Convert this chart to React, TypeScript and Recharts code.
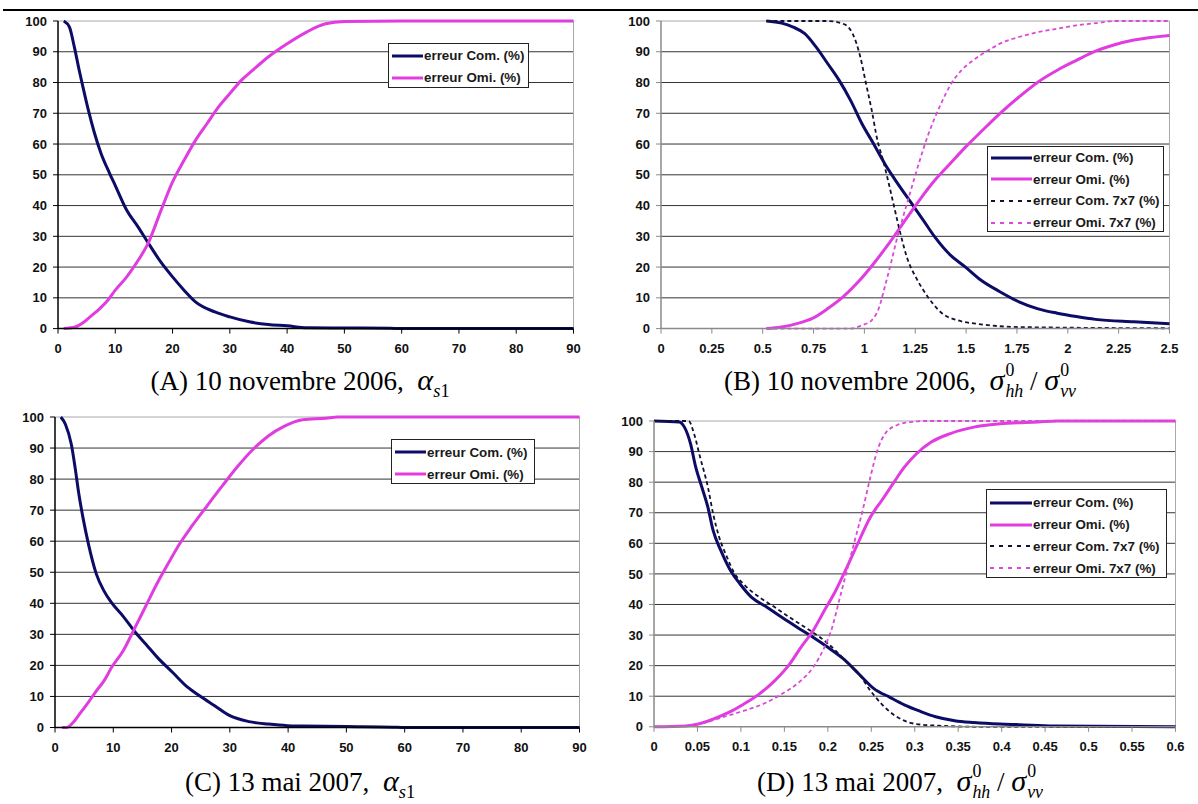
import React from 'react';
import { LineChart, Line, XAxis, YAxis, CartesianGrid, Legend } from 'recharts';

// ---------- colours ----------
const NAVY = '#0c0c66';
const MAGENTA = '#e03ce0';
const DASH_DARK = '#111133';
const DASH_MAG = '#d94ad9';

// ---------- axes ----------
const Y_TICKS = [0, 10, 20, 30, 40, 50, 60, 70, 80, 90, 100];
const GRID_Y = [10, 20, 30, 40, 50, 60, 70, 80, 90];
const ALPHA_TICKS = [0, 10, 20, 30, 40, 50, 60, 70, 80, 90];
const ALPHA_LABELS = ['0', '10', '20', '30', '40', '50', '60', '70', '80', '90'];
const RATIO_B_TICKS = [0, 0.25, 0.5, 0.75, 1, 1.25, 1.5, 1.75, 2, 2.25, 2.5];
const RATIO_B_LABELS = ['0', '0.25', '0.5', '0.75', '1', '1.25', '1.5', '1.75', '2', '2.25', '2.5'];
const RATIO_D_TICKS = [0, 0.05, 0.1, 0.15, 0.2, 0.25, 0.3, 0.35, 0.4, 0.45, 0.5, 0.55, 0.6];
const RATIO_D_LABELS = ['0', '0.05', '0.1', '0.15', '0.2', '0.25', '0.3', '0.35', '0.4', '0.45', '0.5', '0.55', '0.6'];

// ---------- (A) 10 novembre 2006, alpha_s1 ----------
const A_COM_X = [1, 2, 2.8, 3.7, 4.3, 5.3, 6.3, 7.5, 9, 10, 12, 14, 15.7, 18, 20, 22, 24, 27.4, 30, 33.4, 36.7, 40, 43.4, 50, 58, 60, 70, 80, 90];
const A_COM_Y = [100, 98, 92, 84, 79, 71, 64, 57, 50.5, 46.5, 38.5, 33, 28, 21.5, 16.8, 12.5, 8.7, 5.4, 3.8, 2.2, 1.3, 0.9, 0.3, 0.2, 0.1, 0, 0, 0, 0];
const A_OMI_X = [1, 3, 4.3, 5.6, 7.3, 8.7, 10, 12, 14, 15.7, 18, 20, 22, 24, 26, 28, 30, 32, 34, 36.7, 40, 43.4, 46.7, 50, 60, 70, 80, 90];
const A_OMI_Y = [0, 0.5, 1.8, 3.8, 6.5, 9.2, 12.5, 16.8, 22.2, 27.6, 38.5, 47.7, 54.7, 61.2, 66.6, 72, 76.4, 80.7, 84, 88.3, 92.6, 96.4, 99.1, 99.8, 100, 100, 100, 100];

// ---------- (B) 10 novembre 2006, sigma_hh / sigma_vv ----------
const B_COM_X = [0.518, 0.593, 0.65, 0.707, 0.763, 0.82, 0.876, 0.932, 0.988, 1.045, 1.1, 1.158, 1.233, 1.29, 1.346, 1.421, 1.497, 1.572, 1.666, 1.76, 1.854, 1.948, 2.042, 2.136, 2.325, 2.5];
const B_COM_Y = [100, 99.3, 98, 95.9, 91.5, 86.1, 80.7, 74.2, 66.6, 60.1, 53.6, 47.7, 40.6, 35.2, 29.8, 24, 20, 15.8, 12, 8.7, 6.4, 5, 3.9, 3, 2.2, 1.6];
const B_OMI_X = [0.518, 0.593, 0.668, 0.744, 0.82, 0.895, 0.97, 1.045, 1.12, 1.195, 1.27, 1.346, 1.421, 1.497, 1.572, 1.666, 1.76, 1.854, 1.948, 2.042, 2.136, 2.23, 2.325, 2.5];
const B_OMI_Y = [0, 0.5, 1.6, 3.3, 6.5, 10.3, 15.2, 21.1, 27.6, 34.7, 41.7, 48.2, 53.6, 59, 63.9, 69.9, 75.3, 80.2, 84, 87.2, 90.2, 92.3, 93.8, 95.3];
const B_COM7_X = [0.518, 0.82, 0.895, 0.942, 0.98, 1.008, 1.036, 1.064, 1.092, 1.12, 1.15, 1.177, 1.214, 1.252, 1.29, 1.337, 1.383, 1.459, 1.572, 1.76, 2.5];
const B_COM7_Y = [100, 100, 99.1, 95.9, 88.3, 79.6, 71, 61.2, 54.7, 47.1, 38.5, 30.9, 22.2, 16.8, 12.5, 8.1, 4.9, 2.7, 1.4, 0.5, 0.1];
const B_OMI7_X = [0.518, 0.932, 0.988, 1.036, 1.073, 1.1, 1.13, 1.158, 1.195, 1.233, 1.27, 1.308, 1.346, 1.383, 1.421, 1.478, 1.534, 1.61, 1.685, 1.76, 1.854, 1.948, 2.042, 2.136, 2.23, 2.5];
const B_OMI7_Y = [0, 0, 1.1, 2.7, 7, 13.5, 21.1, 28.7, 37.4, 46, 54.2, 62, 68.5, 74, 79, 84, 87.2, 90.5, 93.2, 94.8, 96.4, 97.5, 98.6, 99.3, 100, 100];

// ---------- (C) 13 mai 2007, alpha_s1 ----------
const C_COM_X = [1, 1.8, 2.8, 3.45, 4.1, 4.8, 5.75, 7.1, 8.4, 9.7, 11.7, 13.6, 15.6, 17.6, 20.2, 22.8, 24.8, 27.4, 30, 33.3, 36.6, 39.9, 42.5, 50, 58, 60, 70, 80, 90];
const C_COM_Y = [100, 97.6, 91.2, 83.7, 75.1, 67.6, 59, 49.4, 44, 40.2, 35.8, 31.1, 26.8, 22.5, 17.7, 12.9, 10.2, 7, 3.8, 1.9, 1.1, 0.6, 0.5, 0.3, 0.1, 0, 0, 0, 0];
const C_OMI_X = [1.2, 2, 3.1, 4.4, 5.75, 7.1, 8.4, 9.7, 11.7, 13.6, 15.6, 17.6, 19.5, 21.5, 23.5, 26.1, 28.7, 31.4, 34, 36.6, 39.3, 42.5, 46.5, 48.5, 60, 70, 80, 90];
const C_OMI_Y = [0, 0, 1.6, 4.8, 8.2, 11.8, 15, 19.3, 24.7, 31.7, 39.2, 46.7, 53.1, 59.5, 64.9, 71.4, 77.8, 84.2, 89.6, 93.9, 97, 99.1, 99.6, 100, 100, 100, 100, 100];

// ---------- (D) 13 mai 2007, sigma_hh / sigma_vv ----------
const D_COM_X = [0, 0.029, 0.035, 0.042, 0.048, 0.055, 0.062, 0.068, 0.077, 0.088, 0.099, 0.112, 0.13, 0.147, 0.165, 0.183, 0.2, 0.218, 0.236, 0.253, 0.271, 0.288, 0.306, 0.324, 0.346, 0.368, 0.398, 0.42, 0.46, 0.6];
const D_COM_Y = [100, 99.7, 98, 92.6, 84.9, 78.4, 71.8, 64.2, 57.6, 51.1, 46.7, 42.4, 39.1, 35.8, 32.5, 29.3, 26, 22.2, 17.2, 12.5, 9.7, 7.2, 5.1, 3.3, 2, 1.4, 0.9, 0.7, 0.3, 0];
const D_OMI_X = [0, 0.037, 0.051, 0.068, 0.086, 0.103, 0.121, 0.139, 0.156, 0.169, 0.183, 0.196, 0.209, 0.222, 0.236, 0.249, 0.262, 0.275, 0.288, 0.302, 0.319, 0.341, 0.368, 0.398, 0.442, 0.464, 0.6];
const D_OMI_Y = [0, 0.3, 0.9, 2.5, 4.7, 7.4, 10.7, 15.1, 20.5, 26, 31.4, 38, 44.5, 52.2, 60.9, 68.6, 74, 79.5, 84.9, 89.3, 93.1, 95.9, 98, 99.1, 99.7, 100, 100];
const D_COM7_X = [0, 0.04, 0.046, 0.053, 0.062, 0.068, 0.075, 0.084, 0.092, 0.103, 0.121, 0.139, 0.156, 0.174, 0.191, 0.209, 0.222, 0.236, 0.249, 0.262, 0.275, 0.288, 0.302, 0.332, 0.376, 0.6];
const D_COM7_Y = [100, 100, 95.9, 88.2, 78.4, 69.7, 62, 55.5, 50.5, 46.7, 42.4, 39.1, 35.8, 32.5, 29.3, 24.9, 21.1, 17.2, 11.8, 7.4, 4.1, 2, 0.9, 0.3, 0, 0];
const D_OMI7_X = [0, 0.037, 0.059, 0.081, 0.103, 0.125, 0.147, 0.169, 0.183, 0.196, 0.205, 0.213, 0.222, 0.231, 0.24, 0.249, 0.257, 0.266, 0.28, 0.297, 0.31, 0.6];
const D_OMI7_Y = [0, 0.3, 1.4, 3.3, 5.2, 7.4, 10.7, 15.1, 19.4, 26, 32.5, 41.3, 51.1, 60.9, 70.7, 81.7, 90.4, 95.9, 98.7, 99.7, 100, 100];

const LABEL_COM = 'erreur Com. (%)';
const LABEL_OMI = 'erreur Omi. (%)';
const LABEL_COM7 = 'erreur Com. 7x7 (%)';
const LABEL_OMI7 = 'erreur Omi. 7x7 (%)';

type Pt = { x: number; y: number };
const pts = (xs: number[], ys: number[]): Pt[] => xs.map((x, i) => ({ x, y: ys[i] }));

type Series = { name: string; data: Pt[]; color: string; width: number; dash?: string; legendDash?: string };

const solidCom = (d: Pt[]): Series => ({ name: LABEL_COM, data: d, color: NAVY, width: 3 });
const solidOmi = (d: Pt[]): Series => ({ name: LABEL_OMI, data: d, color: MAGENTA, width: 3 });
const dashCom = (d: Pt[]): Series => ({ name: LABEL_COM7, data: d, color: DASH_DARK, width: 1.8, dash: '4 3', legendDash: '4 5' });
const dashOmi = (d: Pt[]): Series => ({ name: LABEL_OMI7, data: d, color: DASH_MAG, width: 1.8, dash: '4 3', legendDash: '4 5' });

type Rect = { x0: number; x1: number; y0: number; y1: number };
type LegendBox = { left: number; top: number; width: number; height: number; sample: number; rowH: number; padTop: number };

const FONT_SANS = '"Liberation Sans", Arial, sans-serif';
const FONT_SERIF = '"Liberation Serif", "Times New Roman", serif';

const ML = 52;
const MT = 12;
const MR = 22;
const XH = 36;

function Panel(props: {
  rect: Rect;
  domain: [number, number];
  ticks: number[];
  labels: string[];
  axisColor: string;
  series: Series[];
  legend: LegendBox;
}) {
  const { rect, domain, ticks, labels, axisColor, series, legend } = props;
  const left = rect.x0 - ML;
  const top = rect.y0 - MT;
  const width = rect.x1 - rect.x0 + ML + MR;
  const height = rect.y1 - rect.y0 + MT + XH;
  const tickStyle = { fontSize: 13, fontWeight: 'bold', fill: '#111', fontFamily: FONT_SANS };

  const renderLegend = () => (
    <div
      style={{
        width: legend.width,
        height: legend.height,
        boxSizing: 'border-box',
        border: '1.5px solid #222',
        background: '#fff',
        paddingTop: legend.padTop,
        paddingLeft: 3,
        fontFamily: FONT_SANS,
        fontSize: 13.4,
        fontWeight: 'bold',
        color: '#1a1a1a',
      }}
    >
      {series.map((s) => (
        <div key={s.name} style={{ display: 'flex', alignItems: 'center', height: legend.rowH, whiteSpace: 'nowrap' }}>
          <svg width={legend.sample} height={6} style={{ display: 'block' }}>
            <line
              x1={0}
              y1={3}
              x2={legend.sample}
              y2={3}
              stroke={s.color}
              strokeWidth={s.dash ? 2 : 3}
              strokeDasharray={s.legendDash}
            />
          </svg>
          <span style={{ marginLeft: 1 }}>{s.name}</span>
        </div>
      ))}
    </div>
  );

  return (
    <div style={{ position: 'absolute', left, top }}>
      <LineChart width={width} height={height} margin={{ top: MT, right: MR, left: 0, bottom: 0 }}>
        <CartesianGrid vertical={false} horizontalValues={GRID_Y} stroke="#333" strokeWidth={1} />
        <CartesianGrid vertical={false} horizontalValues={[100]} stroke="#a8a8a8" strokeWidth={1} />
        <CartesianGrid horizontal={false} verticalValues={[domain[1]]} stroke="#a8a8a8" strokeWidth={1} />
        <XAxis
          type="number"
          dataKey="x"
          domain={domain}
          ticks={ticks}
          interval={0}
          height={XH}
          tickFormatter={(v: number, i: number) => labels[i] ?? String(v)}
          tick={tickStyle}
          tickSize={5}
          tickMargin={10}
          axisLine={{ stroke: axisColor, strokeWidth: 1.5 }}
          tickLine={{ stroke: axisColor, strokeWidth: 1 }}
        />
        <YAxis
          type="number"
          width={ML}
          domain={[0, 100]}
          ticks={Y_TICKS}
          interval={0}
          tick={tickStyle}
          tickSize={5}
          tickMargin={6}
          axisLine={{ stroke: axisColor, strokeWidth: 1.5 }}
          tickLine={{ stroke: axisColor, strokeWidth: 1 }}
        />
        <Legend
          content={renderLegend}
          layout="horizontal"
          align="center"
          verticalAlign="middle"
          wrapperStyle={{ left: legend.left - left, top: legend.top - top, width: legend.width, height: legend.height }}
        />
        {series.map((s) => (
          <Line
            key={s.name}
            data={s.data}
            dataKey="y"
            name={s.name}
            type="monotone"
            stroke={s.color}
            strokeWidth={s.width}
            strokeDasharray={s.dash}
            dot={false}
            activeDot={false}
            isAnimationActive={false}
          />
        ))}
      </LineChart>
    </div>
  );
}

const Alpha = () => (
  <span>
    <span style={{ fontStyle: 'italic', fontSize: '1.12em' }}>α</span>
    <span style={{ position: 'relative', top: '0.4em', fontSize: '0.68em' }}>
      <i>s</i>1
    </span>
  </span>
);

const SigStack = ({ sub }: { sub: string }) => (
  <span
    style={{
      position: 'relative',
      display: 'inline-block',
      fontSize: '0.66em',
      lineHeight: 1,
      marginLeft: 1,
    }}
  >
    <span style={{ position: 'absolute', left: 0, top: '-0.78em' }}>0</span>
    <span style={{ position: 'relative', top: '0.42em', fontStyle: 'italic' }}>{sub}</span>
  </span>
);

const SigmaRatio = () => (
  <span>
    <span style={{ fontStyle: 'italic', fontSize: '1.12em' }}>σ</span>
    <SigStack sub="hh" />
    <span>{' / '}</span>
    <span style={{ fontStyle: 'italic', fontSize: '1.12em' }}>σ</span>
    <SigStack sub="vv" />
  </span>
);

function Caption({ cx, cy, children }: { cx: number; cy: number; children: React.ReactNode }) {
  return (
    <div
      style={{
        position: 'absolute',
        left: cx - 270,
        width: 540,
        top: cy - 15,
        height: 30,
        lineHeight: '30px',
        textAlign: 'center',
        fontFamily: FONT_SERIF,
        fontSize: 27,
        color: '#000',
        whiteSpace: 'pre',
      }}
    >
      {children}
    </div>
  );
}

export default function App() {
  const legendSmallA: LegendBox = { left: 388, top: 43, width: 141, height: 45, sample: 31, rowH: 22, padTop: 1 };
  const legendSmallC: LegendBox = { left: 391, top: 439, width: 144, height: 45, sample: 31, rowH: 22, padTop: 1 };
  const legendBigB: LegendBox = { left: 987, top: 146, width: 177, height: 86, sample: 41, rowH: 21.6, padTop: 0 };
  const legendBigD: LegendBox = { left: 986, top: 489, width: 181, height: 89, sample: 42, rowH: 21.8, padTop: 2 };

  return (
    <div style={{ position: 'absolute', left: 0, top: 0, width: 1198, height: 804, background: '#fff', overflow: 'hidden' }}>
      <div style={{ position: 'absolute', left: 3, top: 9, width: 1195, height: 2, background: '#000' }} />

      <Panel
        rect={{ x0: 57.5, x1: 573, y0: 20.7, y1: 328.3 }}
        domain={[0, 90]}
        ticks={ALPHA_TICKS}
        labels={ALPHA_LABELS}
        axisColor="#000"
        series={[solidCom(pts(A_COM_X, A_COM_Y)), solidOmi(pts(A_OMI_X, A_OMI_Y))]}
        legend={legendSmallA}
      />
      <Panel
        rect={{ x0: 661, x1: 1169.5, y0: 20.7, y1: 328.3 }}
        domain={[0, 2.5]}
        ticks={RATIO_B_TICKS}
        labels={RATIO_B_LABELS}
        axisColor="#8a8a8a"
        series={[
          solidCom(pts(B_COM_X, B_COM_Y)),
          solidOmi(pts(B_OMI_X, B_OMI_Y)),
          dashCom(pts(B_COM7_X, B_COM7_Y)),
          dashOmi(pts(B_OMI7_X, B_OMI7_Y)),
        ]}
        legend={legendBigB}
      />
      <Panel
        rect={{ x0: 54.5, x1: 579, y0: 416.5, y1: 727 }}
        domain={[0, 90]}
        ticks={ALPHA_TICKS}
        labels={ALPHA_LABELS}
        axisColor="#000"
        series={[solidCom(pts(C_COM_X, C_COM_Y)), solidOmi(pts(C_OMI_X, C_OMI_Y))]}
        legend={legendSmallC}
      />
      <Panel
        rect={{ x0: 653.5, x1: 1175, y0: 420.7, y1: 726.5 }}
        domain={[0, 0.6]}
        ticks={RATIO_D_TICKS}
        labels={RATIO_D_LABELS}
        axisColor="#8a8a8a"
        series={[
          solidCom(pts(D_COM_X, D_COM_Y)),
          solidOmi(pts(D_OMI_X, D_OMI_Y)),
          dashCom(pts(D_COM7_X, D_COM7_Y)),
          dashOmi(pts(D_OMI7_X, D_OMI7_Y)),
        ]}
        legend={legendBigD}
      />

      <Caption cx={300} cy={380}>
        {'(A) 10 novembre 2006,  '}
        <Alpha />
      </Caption>
      <Caption cx={900} cy={380}>
        {'(B) 10 novembre 2006,  '}
        <SigmaRatio />
      </Caption>
      <Caption cx={300} cy={781}>
        {'(C) 13 mai 2007,  '}
        <Alpha />
      </Caption>
      <Caption cx={900} cy={781}>
        {'(D) 13 mai 2007,  '}
        <SigmaRatio />
      </Caption>
    </div>
  );
}
